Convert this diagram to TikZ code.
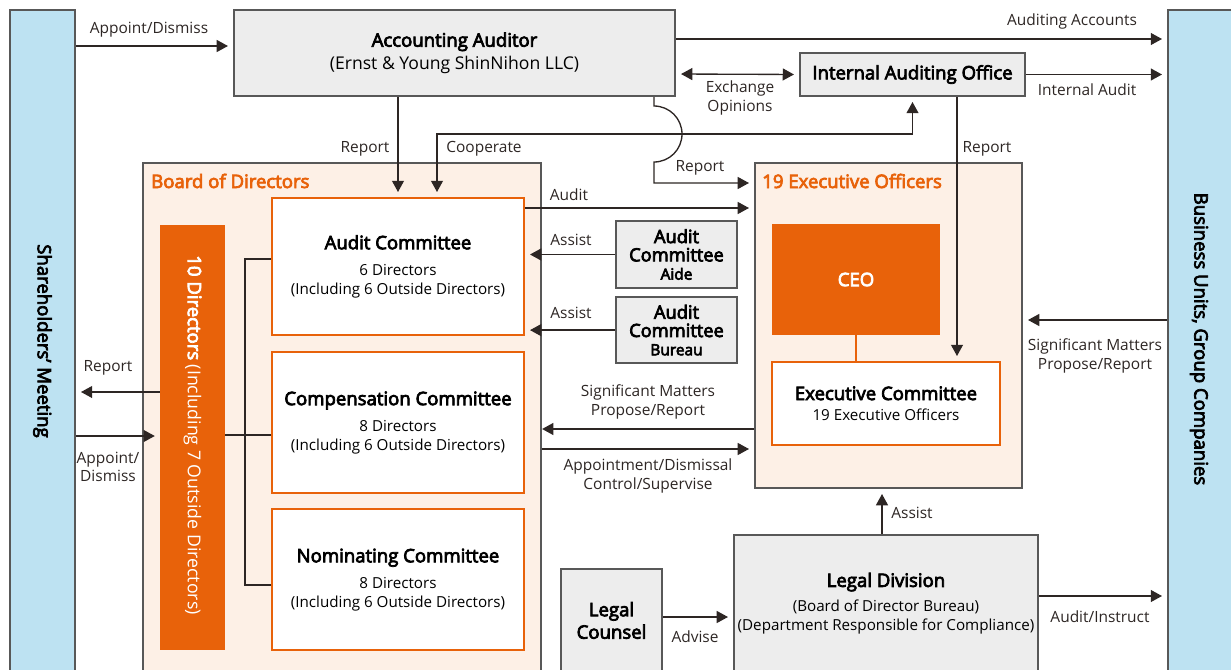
\documentclass[tikz,border=0pt]{standalone}
\usepackage{fontspec}
\setmainfont{Open Sans}[AutoFakeBold=4]
\usepackage{xcolor}
\definecolor{SideBlue}{RGB}{189,226,242}
\definecolor{BoxGray}{RGB}{88,88,88}
\definecolor{BoxFill}{RGB}{237,237,237}
\definecolor{GroupPeach}{RGB}{253,240,230}
\definecolor{OrangeMain}{RGB}{232,98,10}
\definecolor{LineDark}{RGB}{45,38,36}
\usepackage{tikz}
\usetikzlibrary{arrows.meta, positioning}
\newcommand{\titlefont}{\fontsize{13.2}{16}\selectfont\bfseries}
\newcommand{\subfont}{\fontsize{10.8}{13.5}\selectfont}
\newcommand{\lblfont}{\fontsize{11}{13}\selectfont}
\tikzstyle{sidebar} = [rectangle, draw=BoxGray, line width=1.5pt, fill=SideBlue, inner sep=0pt]
\tikzstyle{greybox} = [rectangle, align=center, draw=BoxGray, line width=1.5pt, fill=BoxFill, inner sep=0pt, font=\subfont]
\tikzstyle{group} = [rectangle, draw=BoxGray, line width=1.5pt, fill=GroupPeach, inner sep=0pt]
\tikzstyle{committee} = [rectangle, align=center, draw=OrangeMain, line width=1.5pt, fill=white, inner sep=0pt, font=\subfont]
\tikzstyle{orangebox} = [rectangle, align=center, fill=OrangeMain, text=white, inner sep=0pt]
\tikzstyle{grouptitle} = [anchor=west, inner sep=0pt, text=OrangeMain, font=\titlefont]
\tikzstyle{lbl} = [align=center, inner sep=0pt, text=LineDark, font=\lblfont]
\tikzstyle{arrow} = [line width=0.95pt, draw=LineDark, -{Triangle[length=8pt,width=8.5pt]}, shorten >=3.5pt]
\tikzstyle{dblarrow} = [arrow, {Triangle[length=8pt,width=8.5pt]}-{Triangle[length=8pt,width=8.5pt]}, shorten <=3.5pt]
\tikzstyle{line} = [line width=0.95pt, draw=LineDark]

\begin{document}
\begin{tikzpicture}[x=0.025cm, y=-0.025cm]
  \useasboundingbox (0,0) rectangle (1231,670);
  \clip (0,0) rectangle (1231,670);

  \node (share) [sidebar, minimum width=1.625cm, minimum height=16.55cm] at (42.5,341) {};
  \node (sharetext) [rotate=-90, font=\titlefont] at (42.5,341) {Shareholders’ Meeting};
  \node (business) [sidebar, minimum width=1.925cm, minimum height=16.55cm] at (1206.5,341) {};
  \node (businesstext) [rotate=-90, font=\titlefont] at (1199,339) {Business Units, Group Companies};

  \node (auditor) [greybox, minimum width=11.025cm, minimum height=2.15cm, font=\fontsize{12.5}{15}\selectfont] at (454.5,53) {{\titlefont Accounting Auditor}\\[1pt](Ernst \& Young ShinNihon LLC)};
  \node (iao) [greybox, minimum width=5.625cm, minimum height=1.075cm, font=\titlefont] at (912.5,74.5) {Internal Auditing Office};

  \node (board) [group, minimum width=9.95cm, minimum height=12.725cm] at (342,417.5) {};
  \node (boardtitle) [grouptitle] at (151,181) {Board of Directors};
  \node (tendir) [orangebox, minimum width=1.625cm, minimum height=10.625cm] at (192.5,437.5) {};
  \node (tendirtext) [rotate=-90, text=white, font=\fontsize{12.6}{15}\selectfont] at (192.5,435) {{\titlefont 10 Directors} (Including 7 Outside Directors)};
  \node (audcom) [committee, minimum width=6.3cm, minimum height=3.425cm] at (398,266.5) {{\titlefont Audit Committee}\\[5pt]6 Directors\\(Including 6 Outside Directors)};
  \node (compcom) [committee, minimum width=6.3cm, minimum height=3.525cm, below=0.375cm of audcom] {{\titlefont Compensation Committee}\\[5pt]8 Directors\\(Including 6 Outside Directors)};
  \node (nomcom) [committee, minimum width=6.3cm, minimum height=3.525cm, below=0.35cm of compcom] {{\titlefont Nominating Committee}\\[5pt]8 Directors\\(Including 6 Outside Directors)};

  \node (aide) [greybox, minimum width=3.025cm, minimum height=1.675cm, font=\fontsize{13}{13}\selectfont\bfseries] at (676.5,254.5) {Audit\\Committee\\{\fontsize{11}{13}\selectfont\bfseries Aide}};
  \node (bureau) [greybox, minimum width=3.025cm, minimum height=1.65cm, font=\fontsize{13}{13}\selectfont\bfseries, below=0.175cm of aide] {Audit\\Committee\\{\fontsize{11}{13}\selectfont\bfseries Bureau}};

  \node (exec) [group, minimum width=6.675cm, minimum height=8.125cm] at (888.5,325.5) {};
  \node (exectitle) [grouptitle] at (762,181) {19 Executive Officers};
  \node (ceo) [orangebox, minimum width=4.2cm, minimum height=2.775cm, font=\titlefont] at (856,279.5) {CEO};
  \node (execcom) [committee, minimum width=5.7cm, minimum height=2.075cm] at (886,403.5) {{\titlefont Executive Committee}\\[1pt]19 Executive Officers};

  \node (legal) [greybox, minimum width=7.6cm, minimum height=3.425cm] at (886,603.5) {{\titlefont Legal Division}\\[4pt](Board of Director Bureau)\\(Department Responsible for Compliance)};
  \node (counsel) [greybox, minimum width=2.525cm, minimum height=2.575cm, font=\fontsize{13.2}{16}\selectfont\bfseries] at (611.5,620.5) {Legal\\Counsel};

  % connectors
  \draw [arrow] (share.east |- 0,46) -- (auditor.west |- 0,46);
  \draw [arrow] (auditor.east |- 0,39) -- (business.west |- 0,39);
  \draw [dblarrow] (auditor.east |- 0,74) -- (iao.west);
  \draw [arrow] (iao.east) -- (business.west |- iao.east);
  \draw [arrow] (auditor.south -| audcom.north) -- (audcom.north);
  \draw [dblarrow] (iao.south) |- (437,134) -- (audcom.north -| 437,0);
  \draw [arrow] (auditor.south -| 654,0) -- (654,106) arc [start angle=90, end angle=-90, radius=0.7cm] -- (654,183) -- (exec.west |- 0,183);
  \draw [arrow] (iao.south -| 957,0) -- (execcom.north -| 957,0);
  \draw [arrow] (audcom.east |- 0,208) -- (exec.west |- 0,208);
  \draw [arrow] (aide.west) -- (audcom.east |- aide.west);
  \draw [arrow] (bureau.west) -- (audcom.east |- bureau.west);
  \draw [arrow, shorten >=0pt] (exec.west |- 0,429) -- (board.east |- 0,429);
  \draw [arrow] (board.east |- 0,449) -- (exec.west |- 0,449);
  \draw [arrow] (business.west |- 0,320) -- (exec.east |- 0,320);
  \draw [arrow] (legal.north -| 882,0) -- (exec.south -| 882,0);
  \draw [arrow] (counsel.east |- 0,617) -- (legal.west |- 0,617);
  \draw [arrow] (legal.east |- 0,596) -- (business.west |- 0,596);
  \draw [arrow] (tendir.west |- 0,392) -- (share.east |- 0,392);
  \draw [arrow] (share.east |- 0,436) -- (tendir.west |- 0,436);
  \draw [line] (audcom.west |- 0,259) -| (245,585) -- (nomcom.west |- 0,585);
  \draw [line] (tendir.east |- 0,435) -- (compcom.west |- 0,435);
  \draw [line, draw=OrangeMain, line width=1.5pt] (ceo.south) -- (ceo.south |- execcom.north);

  % labels
  \node (lblappointtop) [lbl] at (149,30) {Appoint/Dismiss};
  \node (lblaccounts) [lbl] at (1072,21) {Auditing Accounts};
  \node (lblexchange) [lbl] at (740,98) {Exchange\\Opinions};
  \node (lblinternal) [lbl] at (1087,90) {Internal Audit};
  \node (lblreportacc) [lbl] at (365,149) {Report};
  \node (lblcooperate) [lbl] at (484,149) {Cooperate};
  \node (lblreportexec) [lbl] at (700,168) {Report};
  \node (lblreportiao) [lbl] at (987,149) {Report};
  \node (lblaudit) [lbl] at (569,195) {Audit};
  \node (lblassista) [lbl] at (571,240) {Assist};
  \node (lblassistb) [lbl] at (571,313) {Assist};
  \node (lblsigleft) [lbl] at (648,402) {Significant Matters\\Propose/Report};
  \node (lblappointment) [lbl] at (648,476) {Appointment/Dismissal\\Control/Supervise};
  \node (lblsigright) [lbl] at (1095,356) {Significant Matters\\Propose/Report};
  \node (lblassistlegal) [lbl] at (912,513) {Assist};
  \node (lbladvise) [lbl] at (695,637) {Advise};
  \node (lblauditinstruct) [lbl] at (1100,617) {Audit/Instruct};
  \node (lblreportsh) [lbl] at (108,368) {Report};
  \node (lblappointsh) [lbl] at (108,467) {Appoint/\\Dismiss};

\end{tikzpicture}
\end{document}
